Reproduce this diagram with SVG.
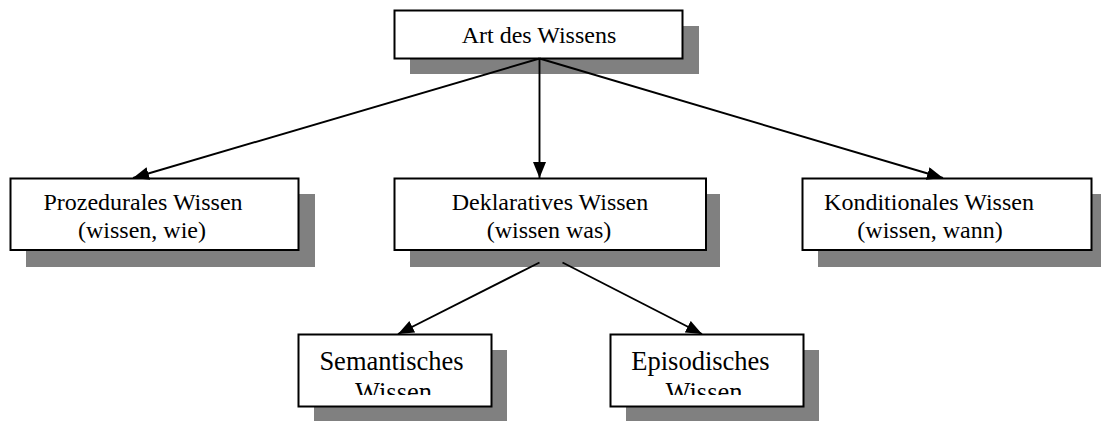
<svg xmlns="http://www.w3.org/2000/svg" width="1101" height="421" viewBox="0 0 1101 421">
  <defs>
    <style>
      .shadow { fill: #808080; stroke: none; }
      .box { fill: #ffffff; stroke: #000000; stroke-width: 2; }
      .lbl { font-family: "Liberation Serif", "Times New Roman", serif; font-size: 24px; fill: #000000; text-anchor: middle; }
      .lbl2 { font-family: "Liberation Serif", "Times New Roman", serif; font-size: 26.5px; fill: #000000; text-anchor: middle; }
      .conn { stroke: #000000; stroke-width: 1.9; fill: none; marker-end: url(#arrow); }
    </style>
    <marker id="arrow" markerUnits="userSpaceOnUse" markerWidth="17" markerHeight="14" refX="16" refY="6.5" orient="auto">
      <path d="M0,0 L16,6.5 L0,13 Z" fill="#000000"/>
    </marker>
    <clipPath id="clipSem"><rect x="299" y="335" width="192" height="60"/></clipPath>
    <clipPath id="clipEpi"><rect x="611" y="335" width="192" height="60"/></clipPath>
  </defs>
  <rect width="1101" height="421" fill="#ffffff"/>

  <g id="node-art">
    <rect class="shadow" x="410" y="26" width="289" height="48"/>
    <rect class="box" x="394.5" y="10.5" width="288" height="48"/>
    <text class="lbl" x="539" y="43">Art des Wissens</text>
  </g>

  <g id="node-prozedural">
    <rect class="shadow" x="26" y="194" width="289" height="73"/>
    <rect class="box" x="10.5" y="178.5" width="288" height="71.5"/>
    <text class="lbl" x="143" y="210">Prozedurales Wissen</text>
    <text class="lbl" x="142" y="238">(wissen, wie)</text>
  </g>

  <g id="node-deklarativ">
    <rect class="shadow" x="410" y="194" width="310" height="73"/>
    <rect class="box" x="394.5" y="178.5" width="311.5" height="71.5"/>
    <text class="lbl" x="550" y="210">Deklaratives Wissen</text>
    <text class="lbl" x="549" y="238">(wissen was)</text>
  </g>

  <g id="node-konditional">
    <rect class="shadow" x="818" y="194" width="289" height="73"/>
    <rect class="box" x="802.5" y="178.5" width="289" height="71.5"/>
    <text class="lbl" x="929" y="210">Konditionales Wissen</text>
    <text class="lbl" x="930" y="238">(wissen, wann)</text>
  </g>

  <g id="node-semantisch">
    <rect class="shadow" x="314" y="350" width="193" height="71"/>
    <rect class="box" x="298.5" y="334.5" width="193" height="72"/>
    <g clip-path="url(#clipSem)">
      <text class="lbl2" x="391.5" y="370">Semantisches</text>
      <text class="lbl2" x="393.5" y="401">Wissen</text>
    </g>
  </g>

  <g id="node-episodisch">
    <rect class="shadow" x="626" y="350" width="193" height="71"/>
    <rect class="box" x="610.5" y="334.5" width="193" height="72"/>
    <g clip-path="url(#clipEpi)">
      <text class="lbl2" x="700.5" y="370">Episodisches</text>
      <text class="lbl2" x="704" y="401">Wissen</text>
    </g>
  </g>

  <g id="connectors">
    <line class="conn" x1="539.5" y1="58.5" x2="133" y2="178"/>
    <line class="conn" x1="539.5" y1="58.5" x2="539.5" y2="178"/>
    <line class="conn" x1="539.5" y1="58.5" x2="943" y2="178"/>
    <line class="conn" x1="539.5" y1="262.5" x2="398" y2="334"/>
    <line class="conn" x1="562.5" y1="262.5" x2="702" y2="334"/>
  </g>
</svg>
